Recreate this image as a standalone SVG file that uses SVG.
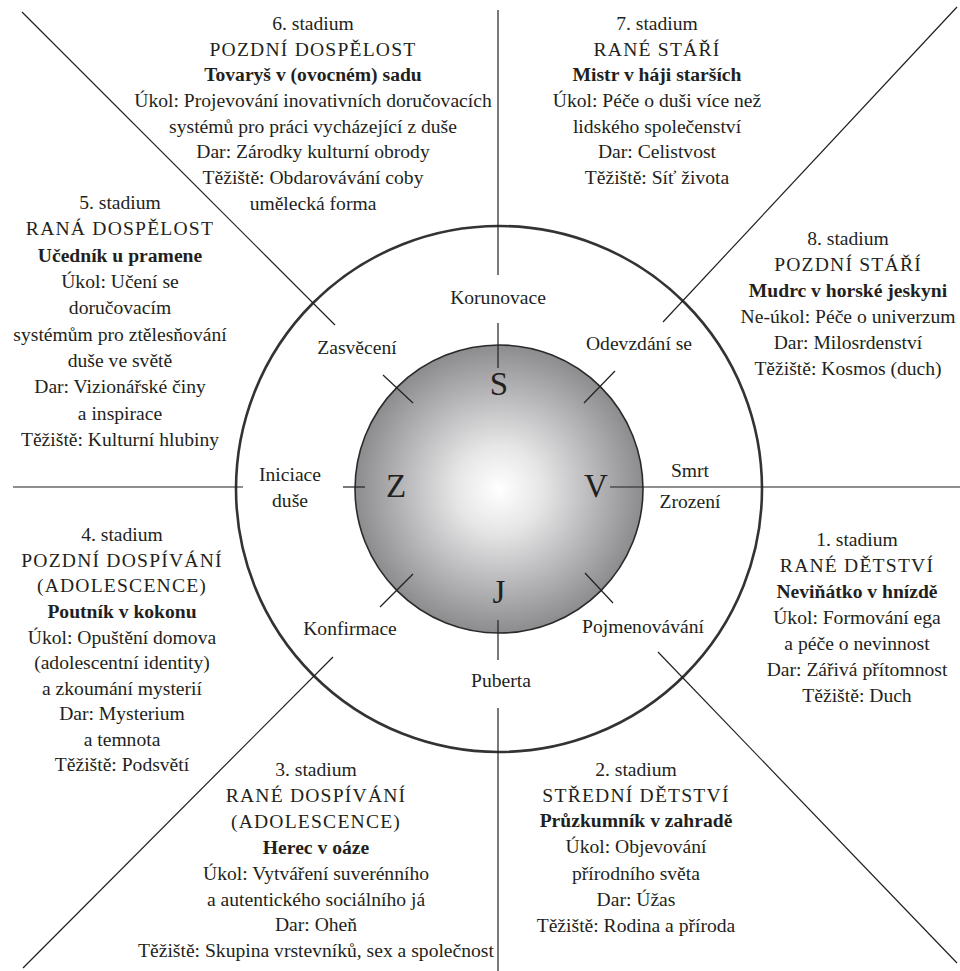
<svg xmlns="http://www.w3.org/2000/svg" width="960" height="971" viewBox="0 0 960 971">
<defs>
<radialGradient id="sph" cx="0.5" cy="0.5" r="0.5">
<stop offset="0" stop-color="#ffffff"/>
<stop offset="0.3" stop-color="#e6e6e7"/>
<stop offset="1" stop-color="#8c8c8f"/>
</radialGradient>
</defs>
<style>
text{font-family:"Liberation Serif","Times New Roman",serif;font-size:19.6px;fill:#231f20;text-anchor:middle}
.c{letter-spacing:1.2px}
.b{font-weight:bold}
.L{font-size:33px}
.ln{stroke:#231f20;stroke-width:1.2;fill:none}
</style>
<rect width="960" height="971" fill="#ffffff"/>
<g id="outer-circle"><circle cx="499" cy="489" r="263" fill="none" stroke="#333" stroke-width="2.6"/></g>
<g id="sphere"><circle cx="499" cy="489" r="144" fill="url(#sph)" stroke="#2a2a2a" stroke-width="1.6"/></g>
<g id="connectors">
<line class="ln" x1="498" y1="10" x2="498" y2="275"/>
<line class="ln" x1="498" y1="323" x2="498" y2="368"/>
<line class="ln" x1="498" y1="620" x2="498" y2="660"/>
<line class="ln" x1="498" y1="708" x2="498" y2="971"/>
<line class="ln" x1="13" y1="487" x2="243" y2="487"/>
<line class="ln" x1="343" y1="487" x2="365" y2="487"/>
<line class="ln" x1="610" y1="487" x2="960" y2="487"/>
<line class="ln" x1="22" y1="12" x2="335" y2="325"/>
<line class="ln" x1="383" y1="375" x2="413" y2="403"/>
<line class="ln" x1="957" y1="7" x2="663" y2="322"/>
<line class="ln" x1="615" y1="371" x2="584" y2="403"/>
<line class="ln" x1="333" y1="657" x2="23" y2="968"/>
<line class="ln" x1="413" y1="574" x2="380" y2="607"/>
<line class="ln" x1="658" y1="652" x2="957" y2="963"/>
<line class="ln" x1="585" y1="573" x2="613" y2="603"/>
</g>
<g id="letters">
<text class="L" x="499" y="395">S</text>
<text class="L" x="396" y="497">Z</text>
<text class="L" x="596" y="497">V</text>
<text class="L" x="499" y="603">J</text>
</g>
<g id="transitions">
<text x="498" y="304">Korunovace</text>
<text x="357" y="354">Zasvěcení</text>
<text x="639" y="350">Odevzdání se</text>
<text x="290" y="481">Iniciace</text>
<text x="290" y="507">duše</text>
<text x="690" y="477">Smrt</text>
<text x="690" y="508">Zrození</text>
<text x="350" y="635">Konfirmace</text>
<text x="643" y="633">Pojmenovávání</text>
<text x="501" y="687">Puberta</text>
</g>
<g id="stage6">
<text x="313" y="30">6. stadium</text>
<text class="c" x="313" y="56">POZDNÍ DOSPĚLOST</text>
<text class="b" x="313" y="81">Tovaryš v (ovocném) sadu</text>
<text x="313" y="107">Úkol: Projevování inovativních doručovacích</text>
<text x="313" y="133">systémů pro práci vycházející z duše</text>
<text x="313" y="158">Dar: Zárodky kulturní obrody</text>
<text x="313" y="184">Těžiště: Obdarovávání coby</text>
<text x="313" y="210">umělecká forma</text>
</g>
<g id="stage7">
<text x="657" y="30">7. stadium</text>
<text class="c" x="657" y="56">RANÉ STÁŘÍ</text>
<text class="b" x="657" y="81">Mistr v háji starších</text>
<text x="657" y="107">Úkol: Péče o duši více než</text>
<text x="657" y="133">lidského společenství</text>
<text x="657" y="158">Dar: Celistvost</text>
<text x="657" y="184">Těžiště: Síť života</text>
</g>
<g id="stage5">
<text x="120" y="209">5. stadium</text>
<text class="c" x="120" y="235">RANÁ DOSPĚLOST</text>
<text class="b" x="120" y="261.5">Učedník u pramene</text>
<text x="120" y="288">Úkol: Učení se</text>
<text x="120" y="314">doručovacím</text>
<text x="120" y="340.5">systémům pro ztělesňování</text>
<text x="120" y="367">duše ve světě</text>
<text x="120" y="393">Dar: Vizionářské činy</text>
<text x="120" y="419.5">a inspirace</text>
<text x="120" y="446">Těžiště: Kulturní hlubiny</text>
</g>
<g id="stage8">
<text x="848" y="245">8. stadium</text>
<text class="c" x="848" y="271">POZDNÍ STÁŘÍ</text>
<text class="b" x="848" y="297">Mudrc v horské jeskyni</text>
<text x="848" y="323">Ne-úkol: Péče o univerzum</text>
<text x="848" y="349">Dar: Milosrdenství</text>
<text x="848" y="375">Těžiště: Kosmos (duch)</text>
</g>
<g id="stage4">
<text x="122" y="541">4. stadium</text>
<text class="c" x="122" y="566.5">POZDNÍ DOSPÍVÁNÍ</text>
<text class="c" x="122" y="592">(ADOLESCENCE)</text>
<text class="b" x="122" y="618">Poutník v kokonu</text>
<text x="122" y="643.5">Úkol: Opuštění domova</text>
<text x="122" y="669">(adolescentní identity)</text>
<text x="122" y="695">a zkoumání mysterií</text>
<text x="122" y="720">Dar: Mysterium</text>
<text x="122" y="746">a temnota</text>
<text x="122" y="771">Těžiště: Podsvětí</text>
</g>
<g id="stage1">
<text x="857" y="546">1. stadium</text>
<text class="c" x="857" y="572">RANÉ DĚTSTVÍ</text>
<text class="b" x="857" y="598">Neviňátko v hnízdě</text>
<text x="857" y="624">Úkol: Formování ega</text>
<text x="857" y="650">a péče o nevinnost</text>
<text x="857" y="676">Dar: Zářivá přítomnost</text>
<text x="857" y="702">Těžiště: Duch</text>
</g>
<g id="stage3">
<text x="316" y="776">3. stadium</text>
<text class="c" x="316" y="802">RANÉ DOSPÍVÁNÍ</text>
<text class="c" x="316" y="828">(ADOLESCENCE)</text>
<text class="b" x="316" y="854">Herec v oáze</text>
<text x="316" y="880">Úkol: Vytváření suverénního</text>
<text x="316" y="906">a autentického sociálního já</text>
<text x="316" y="931">Dar: Oheň</text>
<text x="316" y="957">Těžiště: Skupina vrstevníků, sex a společnost</text>
</g>
<g id="stage2">
<text x="636" y="776">2. stadium</text>
<text class="c" x="636" y="802">STŘEDNÍ DĚTSTVÍ</text>
<text class="b" x="636" y="827">Průzkumník v zahradě</text>
<text x="636" y="853">Úkol: Objevování</text>
<text x="636" y="880">přírodního světa</text>
<text x="636" y="906">Dar: Úžas</text>
<text x="636" y="932">Těžiště: Rodina a příroda</text>
</g>
</svg>
